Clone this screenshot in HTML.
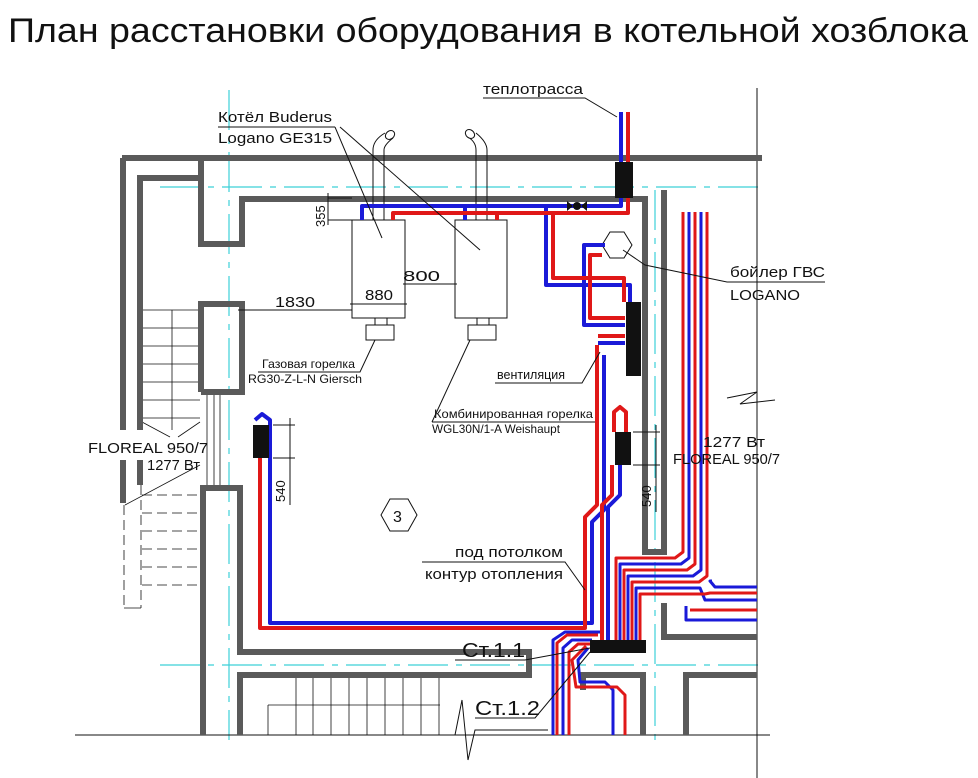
<!DOCTYPE html>
<html><head><meta charset="utf-8"><style>
html,body{margin:0;padding:0;background:#fff;width:978px;height:778px;overflow:hidden}
svg{display:block}
text{font-family:"Liberation Sans",sans-serif;fill:#111}
</style></head><body>
<svg width="978" height="778" viewBox="0 0 978 778" xmlns="http://www.w3.org/2000/svg">
<text x="8" y="42" font-size="34" textLength="960" lengthAdjust="spacingAndGlyphs">План расстановки оборудования в котельной хозблока</text>

<g stroke="#3cd0d8" stroke-width="1.2" fill="none" stroke-dasharray="40,8,6,8">
<line x1="160" y1="187" x2="765" y2="187"/>
<line x1="160" y1="665" x2="765" y2="665"/>
<line x1="229" y1="90" x2="229" y2="740"/>
<line x1="655" y1="190" x2="655" y2="740"/>
</g>

<g stroke="#111" stroke-width="1" fill="none">
<line x1="75" y1="735" x2="770" y2="735"/>
<line x1="757" y1="88" x2="757" y2="778"/>
<polyline points="727,398 757,392 740,404 775,400"/>
<polyline points="455,735 462,700 468,760 475,730 548,730"/>
<g stroke-width="0.8">
<line x1="142" y1="310" x2="200" y2="310"/><line x1="142" y1="328" x2="200" y2="328"/>
<line x1="142" y1="346" x2="200" y2="346"/><line x1="142" y1="364" x2="200" y2="364"/>
<line x1="142" y1="382" x2="200" y2="382"/><line x1="142" y1="400" x2="200" y2="400"/>
<line x1="142" y1="418" x2="200" y2="418"/>
<line x1="172" y1="310" x2="172" y2="430"/>
<line x1="142" y1="422" x2="170" y2="437"/><line x1="200" y1="422" x2="178" y2="437"/>
<line x1="125" y1="505" x2="200" y2="465"/>
<g stroke-dasharray="10,5">
<line x1="142" y1="495" x2="200" y2="495"/><line x1="142" y1="513" x2="200" y2="513"/>
<line x1="142" y1="531" x2="200" y2="531"/><line x1="142" y1="549" x2="200" y2="549"/>
<line x1="142" y1="567" x2="200" y2="567"/><line x1="142" y1="585" x2="200" y2="585"/>
<line x1="124" y1="505" x2="124" y2="608"/><line x1="141" y1="485" x2="141" y2="608"/>
</g>
<line x1="124" y1="608" x2="141" y2="608"/>
<line x1="207" y1="392" x2="207" y2="488"/><line x1="214" y1="392" x2="214" y2="488"/>
<line x1="220" y1="392" x2="220" y2="488"/>
<line x1="268" y1="705" x2="440" y2="705"/>
<line x1="268" y1="705" x2="268" y2="735"/>
<line x1="296" y1="678" x2="296" y2="735"/><line x1="313" y1="678" x2="313" y2="735"/>
<line x1="331" y1="678" x2="331" y2="735"/><line x1="349" y1="678" x2="349" y2="735"/>
<line x1="367" y1="678" x2="367" y2="735"/><line x1="385" y1="678" x2="385" y2="735"/>
<line x1="403" y1="678" x2="403" y2="735"/><line x1="421" y1="678" x2="421" y2="735"/>
<line x1="439" y1="678" x2="439" y2="735"/>
</g>
</g>

<g stroke="#5a5a5a" stroke-width="6" fill="none" stroke-linejoin="miter">
<line x1="122" y1="158" x2="762" y2="158"/>
<polyline points="123,158 123,430"/>
<line x1="123" y1="460" x2="123" y2="503"/>
<polyline points="140,430 140,178 201,178"/>
<line x1="140" y1="460" x2="140" y2="485"/>
<polyline points="201,161 201,244 242,244 242,199 645,199 645,552 664,552 664,190"/>
<polyline points="201,392 201,304 242,304 242,392 201,392"/>
<polyline points="203,735 203,488 240,488 240,652 529,652 529,675 240,675 240,735"/>
<polyline points="664,603 664,637 757,637"/>
<polyline points="583,690 583,675 643,675 643,735"/>
<polyline points="686,735 686,675 757,675"/>
</g>

<g stroke="#111" stroke-width="1" fill="#fff">
<rect x="352" y="220" width="53" height="98"/>
<rect x="455" y="220" width="52" height="98"/>
<rect x="375" y="318" width="12" height="7"/><rect x="366" y="325" width="28" height="15"/>
<rect x="477" y="318" width="12" height="7"/><rect x="468" y="325" width="28" height="15"/>
<path d="M373,220 V150 Q373,140 385,133 M384,220 V150 Q384,145 393,138" fill="none"/>
<ellipse cx="390" cy="135" rx="5" ry="4" transform="rotate(-40 390 135)"/>
<path d="M476,220 V150 Q476,142 468,137 M487,220 V150 Q487,142 476,133" fill="none"/>
<ellipse cx="470" cy="134" rx="5" ry="4" transform="rotate(40 470 134)"/>
<polygon points="610,232 624,232 632,245 624,258 610,258 602,245"/>
<polygon points="390,499 408,499 417,515 408,531 390,531 381,515"/>
</g>
<text x="393" y="522" font-size="16">3</text>

<g fill="none" stroke-width="4" stroke-linejoin="round">
<g stroke="#1a1ad8">
<polyline points="621,112 621,206 362,206 362,220"/>
<line x1="465" y1="206" x2="465" y2="220"/>
<polyline points="546,206 546,285 630,285 630,302"/>
<polyline points="605,245 584,245 584,325 625,325"/>
<line x1="598" y1="343" x2="625" y2="343"/>
<polyline points="604,355 604,510 592,522 592,623 270,623 270,420 262,414 255,420"/>
<polyline points="620,465 620,495 608,507 608,640"/>
</g>
<g stroke="#e01818">
<polyline points="628,112 628,213 393,213 393,220"/>
<line x1="497" y1="213" x2="497" y2="220"/>
<polyline points="553,213 553,278 624,278 624,302"/>
<polyline points="602,255 590,255 590,318 625,318"/>
<line x1="598" y1="336" x2="625" y2="336"/>
<polyline points="597,345 597,505 585,517 585,628 260,628 260,457"/>
<polyline points="614,432 614,412 620,407 626,412 626,432"/>
<polyline points="602,640 602,505 612,495 612,465"/>
</g>
<g stroke-width="3">
<polyline stroke="#e01818" points="683,212 683,552 675,558 616,558 616,640"/>
<polyline stroke="#1a1ad8" points="689,212 689,558 681,564 620,564 620,640"/>
<polyline stroke="#e01818" points="695,212 695,564 687,570 624,570 624,640"/>
<polyline stroke="#1a1ad8" points="701,212 701,570 693,576 628,576 628,640"/>
<polyline stroke="#e01818" points="707,212 707,576 699,582 632,582 632,640"/>
<polyline stroke="#1a1ad8" points="757,600 705,600 700,588 636,588 636,640"/>
<polyline stroke="#e01818" points="757,593 710,593 705,594 640,594 640,640"/>
<polyline stroke="#1a1ad8" points="757,587 715,587 710,581 712,581"/>
<polyline stroke="#1a1ad8" points="757,620 686,620 686,606"/>
<polyline stroke="#e01818" points="757,610 690,610"/>
<polyline stroke="#1a1ad8" points="553,735 553,640 565,632 600,632"/>
<polyline stroke="#e01818" points="557,735 557,643 567,635 598,635"/>
<polyline stroke="#1a1ad8" points="563,735 563,648 572,640 592,640"/>
<polyline stroke="#e01818" points="569,735 569,652 578,644 592,644"/>
<polyline stroke="#1a1ad8" points="613,735 613,690 605,682 580,682 578,660 588,648"/>
<polyline stroke="#e01818" points="625,735 625,695 617,687 576,687 572,660 586,646"/>
</g>
</g>

<g fill="#111">
<rect x="615" y="162" width="18" height="36"/>
<rect x="626" y="302" width="15" height="74"/>
<rect x="253" y="425" width="16" height="33"/>
<rect x="615" y="432" width="16" height="33"/>
<rect x="590" y="640" width="56" height="13"/>
<polygon points="567,201 573,206 567,211"/><polygon points="587,201 581,206 587,211"/>
<circle cx="577" cy="206" r="4"/>
</g>

<g stroke="#111" stroke-width="1" fill="none">
<polyline points="483,98 585,98 617,117"/>
<line x1="218" y1="127" x2="335" y2="127"/>
<line x1="335" y1="127" x2="382" y2="238"/><line x1="340" y1="127" x2="480" y2="250"/>
<line x1="328" y1="198" x2="352" y2="198"/><line x1="328" y1="220" x2="352" y2="220"/>
<line x1="328" y1="193" x2="328" y2="225"/>
<line x1="238" y1="310" x2="352" y2="310"/>
<line x1="350" y1="304" x2="407" y2="304"/>
<line x1="403" y1="284" x2="457" y2="284"/>
<line x1="405" y1="290" x2="405" y2="315"/>
<polyline points="258,372 360,372 375,340"/>
<polyline points="495,383 582,383 600,352"/>
<polyline points="432,422 595,422"/><line x1="432" y1="422" x2="470" y2="340"/>
<polyline points="623,250 645,265 727,282 825,282"/>
<line x1="273" y1="425" x2="295" y2="425"/><line x1="273" y1="458" x2="295" y2="458"/>
<line x1="290" y1="418" x2="290" y2="505"/>
<line x1="633" y1="432" x2="660" y2="432"/><line x1="633" y1="465" x2="660" y2="465"/>
<line x1="656" y1="425" x2="656" y2="512"/>
<polyline points="422,562 565,562 585,590"/>
<polyline points="455,660 525,660 590,648"/>
<polyline points="475,718 535,718 590,652"/>
</g>

<g font-size="15" lengthAdjust="spacingAndGlyphs">
<text x="483" y="94" textLength="100" lengthAdjust="spacingAndGlyphs">теплотрасса</text>
<text x="218" y="122" textLength="114" lengthAdjust="spacingAndGlyphs">Котёл Buderus</text>
<text x="218" y="143" textLength="114" lengthAdjust="spacingAndGlyphs">Logano GE315</text>
<text x="275" y="307" textLength="40" lengthAdjust="spacingAndGlyphs">1830</text>
<text x="365" y="300" textLength="28" lengthAdjust="spacingAndGlyphs">880</text>
<text x="403" y="281" textLength="37" lengthAdjust="spacingAndGlyphs">800</text>
<text x="497" y="379" font-size="13" textLength="68" lengthAdjust="spacingAndGlyphs">вентиляция</text>
<text x="730" y="277" textLength="95" lengthAdjust="spacingAndGlyphs">бойлер ГВС</text>
<text x="730" y="300" textLength="70" lengthAdjust="spacingAndGlyphs">LOGANO</text>
<text x="703" y="447" textLength="62" lengthAdjust="spacingAndGlyphs">1277 Вт</text>
<text x="673" y="464" textLength="107" lengthAdjust="spacingAndGlyphs">FLOREAL 950/7</text>
<text x="88" y="453" textLength="120" lengthAdjust="spacingAndGlyphs">FLOREAL 950/7</text>
<text x="147" y="470" textLength="53" lengthAdjust="spacingAndGlyphs">1277 Вт</text>
<text x="455" y="557" textLength="108" lengthAdjust="spacingAndGlyphs">под потолком</text>
<text x="425" y="579" textLength="138" lengthAdjust="spacingAndGlyphs">контур отопления</text>
</g>
<text x="262" y="368" font-size="12" textLength="93" lengthAdjust="spacingAndGlyphs">Газовая горелка</text>
<text x="248" y="383" font-size="12" textLength="114" lengthAdjust="spacingAndGlyphs">RG30-Z-L-N Giersch</text>
<text x="434" y="418" font-size="12" textLength="159" lengthAdjust="spacingAndGlyphs">Комбинированная горелка</text>
<text x="432" y="433" font-size="12" textLength="128" lengthAdjust="spacingAndGlyphs">WGL30N/1-A Weishaupt</text>
<text font-size="13" transform="translate(325,227) rotate(-90)">355</text>
<text font-size="13" transform="translate(285,502) rotate(-90)">540</text>
<text font-size="13" transform="translate(651,507) rotate(-90)">540</text>
<text x="462" y="657" font-size="20" textLength="63" lengthAdjust="spacingAndGlyphs">Ст.1.1</text>
<text x="475" y="715" font-size="20" textLength="65" lengthAdjust="spacingAndGlyphs">Ст.1.2</text>
</svg>
</body></html>
